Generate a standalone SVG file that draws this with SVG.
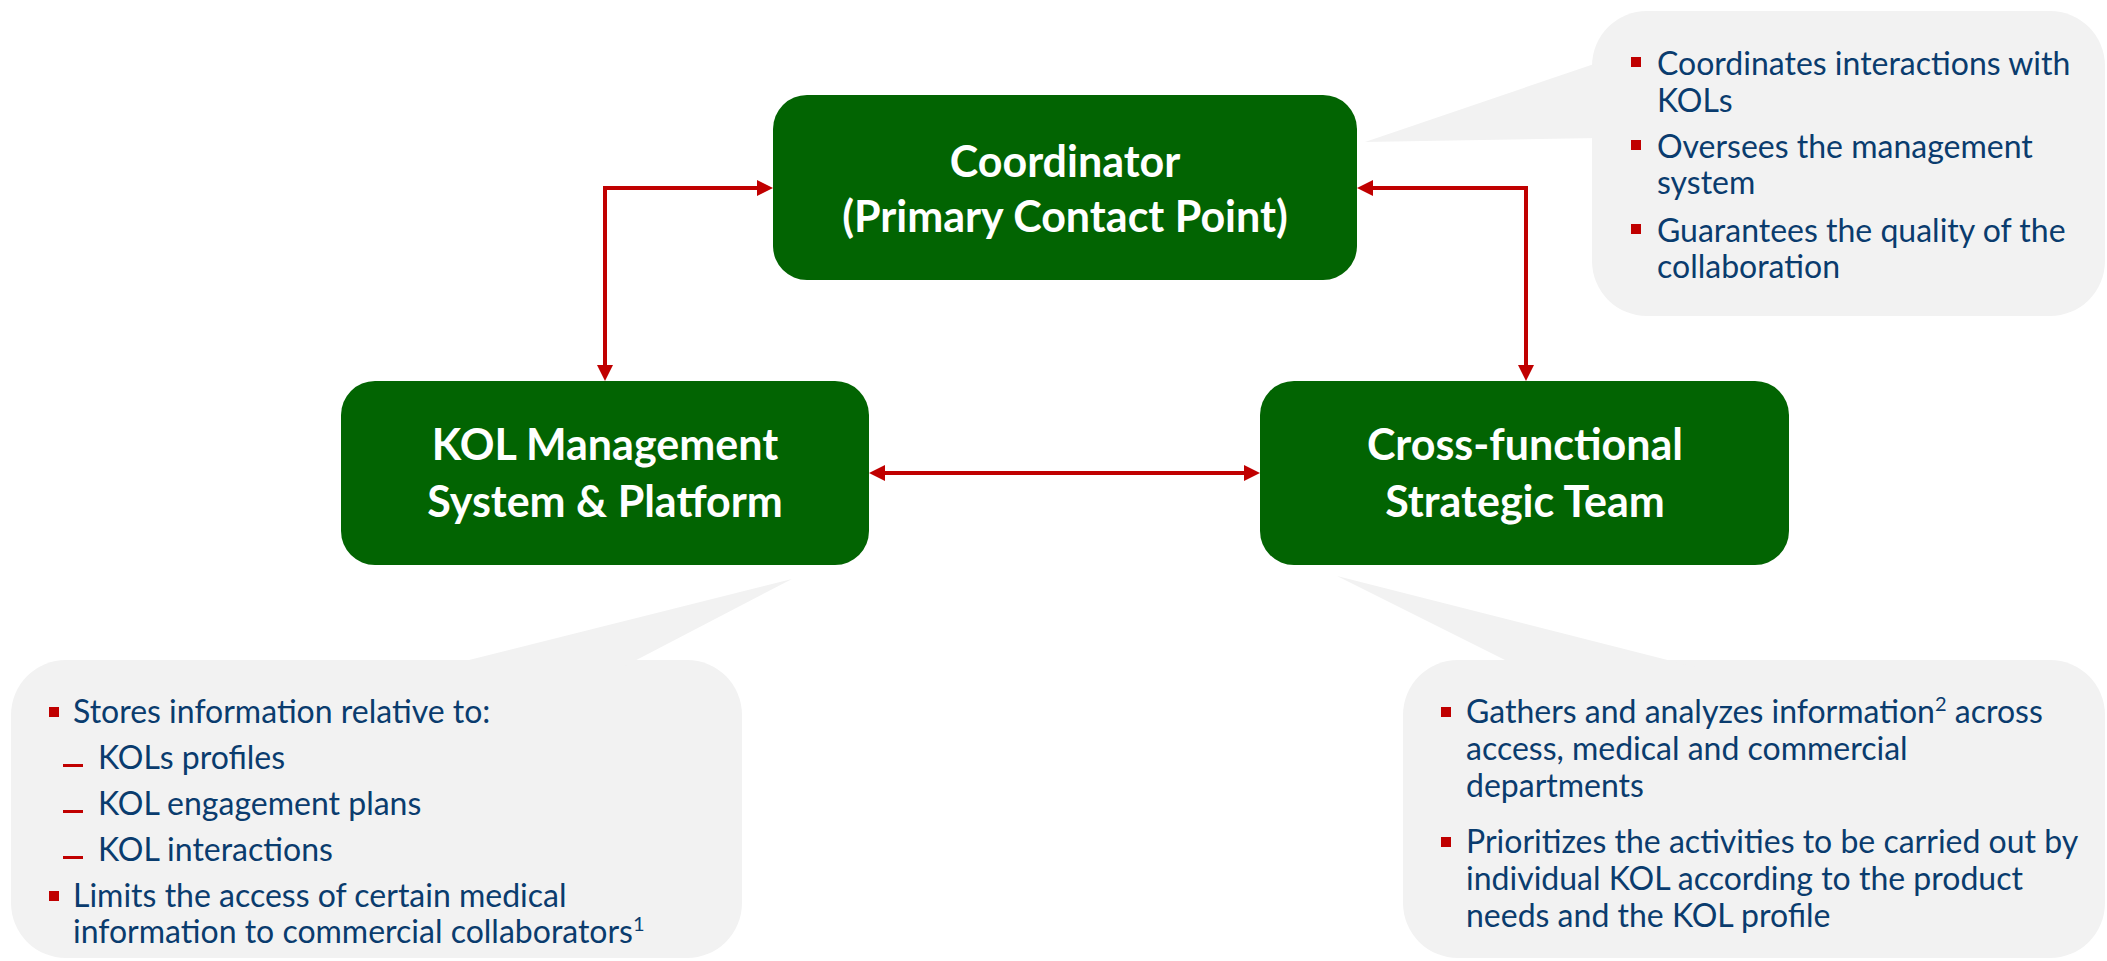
<svg xmlns="http://www.w3.org/2000/svg" width="2107" height="961" viewBox="0 0 2107 961">
  <defs>
    <marker id="ah" viewBox="0 0 16 16" markerWidth="16" markerHeight="16" markerUnits="userSpaceOnUse" refX="6" refY="8" orient="auto-start-reverse">
      <path d="M0,0 L16,8 L0,16 Z" fill="#C00000"/>
    </marker>
  </defs>
  <style>
    .box { fill: #026402; }
    .title { font-family: Lato, "Open Sans", "Liberation Sans", sans-serif; font-weight: bold; font-size: 43px; fill: #FFFFFF; text-anchor: middle; }
    .callout { fill: #F2F2F2; }
    .body { font-family: Lato, "Open Sans", "Liberation Sans", sans-serif; font-size: 32px; fill: #0A3C6E; }
    .sup { font-size: 20px; }
    .bullet { fill: #C00000; }
    .conn { fill: none; stroke: #C00000; stroke-width: 4; marker-start: url(#ah); marker-end: url(#ah); }
  </style>
  <rect width="2107" height="961" fill="#FFFFFF"/>

  <g id="callout-coordinator">
    <rect class="callout" x="1592" y="11" width="513" height="305" rx="55" ry="55"/>
    <polygon class="callout" points="1600,62 1365,142 1600,138"/>
    <rect class="bullet" x="1631" y="57" width="10" height="10"/>
    <text class="body" x="1657" y="75">Coordinates interactions with</text>
    <text class="body" x="1657" y="112">KOLs</text>
    <rect class="bullet" x="1631" y="140" width="10" height="10"/>
    <text class="body" x="1657" y="158">Oversees the management</text>
    <text class="body" x="1657" y="194">system</text>
    <rect class="bullet" x="1631" y="224" width="10" height="10"/>
    <text class="body" x="1657" y="242">Guarantees the quality of the</text>
    <text class="body" x="1657" y="278">collaboration</text>
  </g>

  <g id="callout-kol-system">
    <rect class="callout" x="11" y="660" width="731" height="298" rx="55" ry="55"/>
    <polygon class="callout" points="437,668 792,579 621,668"/>
    <rect class="bullet" x="49" y="707" width="10" height="10"/>
    <text class="body" x="73" y="723">Stores information relative to:</text>
    <rect class="bullet" x="63" y="764" width="20" height="3"/>
    <text class="body" x="98" y="769">KOLs profiles</text>
    <rect class="bullet" x="63" y="810" width="20" height="3"/>
    <text class="body" x="98" y="815">KOL engagement plans</text>
    <rect class="bullet" x="63" y="856" width="20" height="3"/>
    <text class="body" x="98" y="861">KOL interactions</text>
    <rect class="bullet" x="49" y="891" width="10" height="10"/>
    <text class="body" x="73" y="907">Limits the access of certain medical</text>
    <text class="body" x="73" y="943">information to commercial collaborators<tspan class="sup" dy="-12">1</tspan></text>
  </g>

  <g id="callout-team">
    <rect class="callout" x="1403" y="660" width="702" height="298" rx="55" ry="55"/>
    <polygon class="callout" points="1521,668 1337,576 1699,668"/>
    <rect class="bullet" x="1441" y="707" width="10" height="10"/>
    <text class="body" x="1466" y="723">Gathers and analyzes information<tspan class="sup" dy="-12">2</tspan><tspan dy="12"> across</tspan></text>
    <text class="body" x="1466" y="760">access, medical and commercial</text>
    <text class="body" x="1466" y="797">departments</text>
    <rect class="bullet" x="1441" y="837" width="10" height="10"/>
    <text class="body" x="1466" y="853">Prioritizes the activities to be carried out by</text>
    <text class="body" x="1466" y="890">individual KOL according to the product</text>
    <text class="body" x="1466" y="927">needs and the KOL profile</text>
  </g>

  <g id="node-coordinator">
    <rect class="box" x="773" y="95" width="584" height="185" rx="34" ry="34"/>
    <text class="title" x="1065" y="177">Coordinator</text>
    <text class="title" x="1065" y="232">(Primary Contact Point)</text>
  </g>

  <g id="node-kol-system">
    <rect class="box" x="341" y="381" width="528" height="184" rx="34" ry="34"/>
    <text class="title" x="605" y="460">KOL Management</text>
    <text class="title" x="605" y="517">System &amp; Platform</text>
  </g>

  <g id="node-team">
    <rect class="box" x="1260" y="381" width="529" height="184" rx="34" ry="34"/>
    <text class="title" x="1525" y="460">Cross-functional</text>
    <text class="title" x="1525" y="517">Strategic Team</text>
  </g>

  <g id="connectors">
    <path class="conn" d="M763,188 H605 V371"/>
    <path class="conn" d="M1367,188 H1526 V371"/>
    <path class="conn" d="M879,473 H1250"/>
  </g>
</svg>
